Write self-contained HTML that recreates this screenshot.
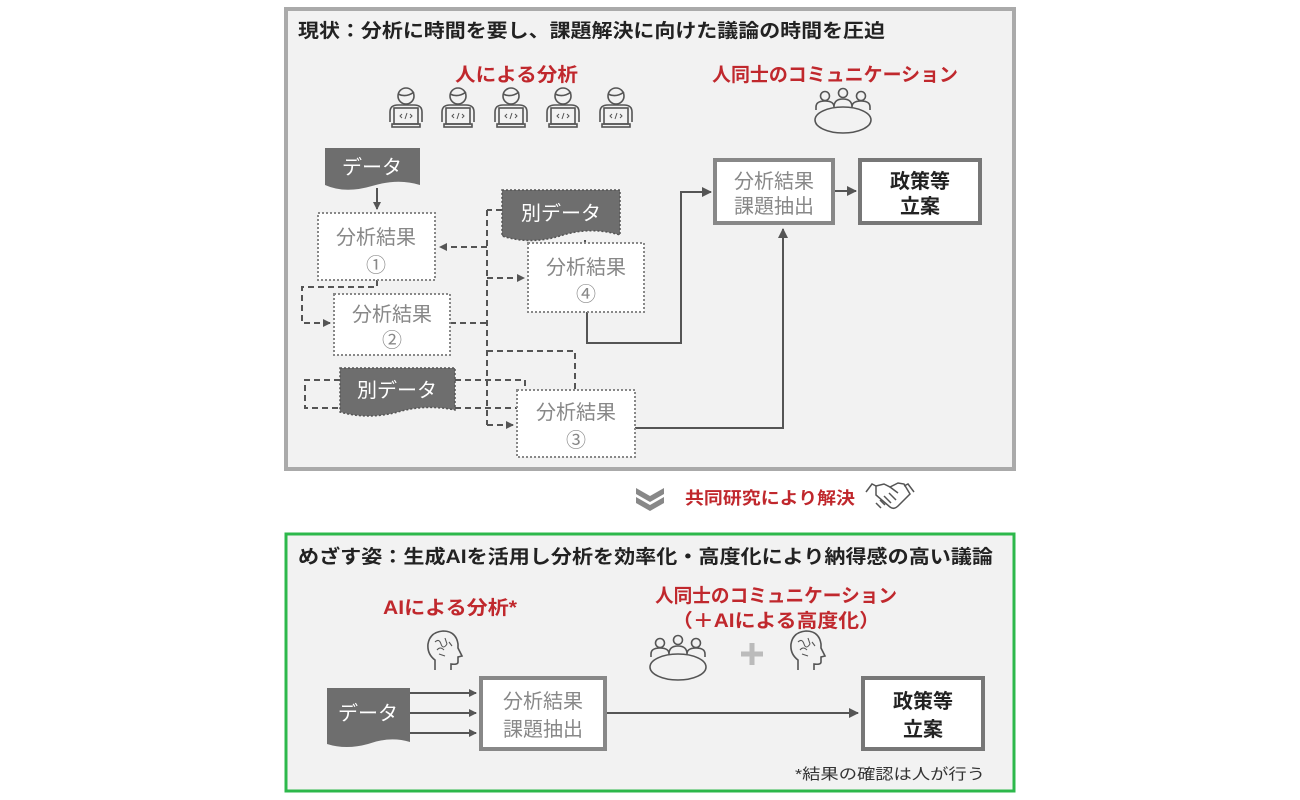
<!DOCTYPE html>
<html><head><meta charset="utf-8"><style>
html,body{margin:0;padding:0;background:#fff;}
svg{display:block;font-family:"Liberation Sans","Noto Sans CJK JP",sans-serif;}
</style></head><body>
<svg width="1300" height="800" viewBox="0 0 1300 800" xmlns="http://www.w3.org/2000/svg">
<defs>
<marker id="ah" markerWidth="8" markerHeight="8" refX="7" refY="4" orient="auto" markerUnits="userSpaceOnUse"><path d="M0,0 L8,4 L0,8 z" fill="#555"/></marker>
<marker id="ah2" markerWidth="10" markerHeight="10" refX="9" refY="5" orient="auto" markerUnits="userSpaceOnUse"><path d="M0,0 L10,5 L0,10 z" fill="#555"/></marker>
<g id="coder" fill="none" stroke="#555" stroke-width="1.6">
<circle cx="0" cy="-12" r="8"/>
<path d="M-8,-14 Q0,-10 8,-16"/>
<path d="M-16,14 L-16,4 Q-16,-3 -8,-3 L8,-3 Q16,-3 16,4 L16,14"/>
<rect x="-12" y="0" width="24" height="16" fill="#f2f2f2"/>
<rect x="-14" y="16" width="28" height="3"/>
<path d="M-4,6 l-2,2 l2,2 M4,6 l2,2 l-2,2 M1,5 l-2,6" stroke-width="1"/>
</g>
<g id="meet" fill="none" stroke="#555" stroke-width="1.6">
<circle cx="-18" cy="-14" r="4.5"/><circle cx="0" cy="-17" r="4.5"/><circle cx="18" cy="-14" r="4.5"/>
<path d="M-27,0 v-3 q0,-6 9,-6 q9,0 9,6 M-9,-3 q0,-8 9,-8 q9,0 9,8 M9,-3 q0,-6 9,-6 q9,0 9,6 v3"/>
<ellipse cx="0" cy="10" rx="28" ry="13" fill="#f2f2f2"/>
</g>
<g id="head" fill="none" stroke="#555" stroke-width="1.6">
<path d="M-8,20 L-8,10 Q-16,4 -15,-6 Q-13,-18 0,-19 Q13,-19 15,-6 L15,-2 L19,6 L15,7 L15,12 Q15,15 8,14 L8,20"/>
<path d="M-8,-8 q4,-4 6,2 q2,6 6,0 M-6,0 q3,-4 7,0 M2,-12 l2,6 M-4,4 l6,2 M6,-8 l3,4" stroke-width="1.1"/>
</g>
</defs>

<!-- Top panel -->
<rect x="286" y="9" width="728" height="460" fill="#f2f2f2" stroke="#aaaaaa" stroke-width="4"/>
<text x="298" y="37" font-size="19" font-weight="bold" fill="#222" textLength="587" lengthAdjust="spacingAndGlyphs">現状：分析に時間を要し、課題解決に向けた議論の時間を圧迫</text>
<text x="455" y="81" font-size="19" font-weight="bold" fill="#c0282d" textLength="123" lengthAdjust="spacingAndGlyphs">人による分析</text>
<text x="712" y="81" font-size="19" font-weight="bold" fill="#c0282d" textLength="246" lengthAdjust="spacingAndGlyphs">人同士のコミュニケーション</text>
<use href="#coder" x="406" y="108"/>
<use href="#coder" x="458" y="108"/>
<use href="#coder" x="511" y="108"/>
<use href="#coder" x="563" y="108"/>
<use href="#coder" x="616" y="108"/>
<use href="#meet" x="843" y="110"/>

<!-- connectors top -->
<g fill="none" stroke="#555" stroke-width="2" stroke-dasharray="6,4">
<path d="M487,210 V425"/>
<path d="M502,210 H487"/>
<path d="M487,247 H440" marker-end="url(#ah)"/>
<path d="M487,278 H524" marker-end="url(#ah)"/>
<path d="M450,323 H487"/>
<path d="M487,351 H575 V390"/>
<path d="M377,280 V287 H302 V323 H330" marker-end="url(#ah)"/>
<path d="M340,380 H305 V408 H340"/>
<path d="M455,380 H525 V390"/>
<path d="M455,408 H517"/>
<path d="M487,425 H513" marker-end="url(#ah)"/>
<path d="M585,240 V244"/>
</g>
<g fill="none" stroke="#555" stroke-width="2">
<path d="M377,188 V209" marker-end="url(#ah)"/>
<path d="M587,312 V343 H681 V192 H711" marker-end="url(#ah2)"/>
<path d="M635,428 H783 V229" marker-end="url(#ah2)"/>
<path d="M834,191 H856" marker-end="url(#ah2)"/>
</g>

<!-- data shapes -->
<path d="M325,148 H420 V185 Q398,178 372,186 Q345,194 325,185 Z" fill="#6e6e6e"/>
<text x="372" y="174" font-size="20" fill="#fff" text-anchor="middle">データ</text>
<path d="M502,190 H620 V235 Q590,226 560,236 Q530,245 502,236 Z" fill="#6e6e6e" stroke="#555" stroke-width="1.5" stroke-dasharray="2,2"/>
<text x="561" y="220" font-size="20" fill="#fff" text-anchor="middle">別データ</text>
<path d="M340,368 H455 V410 Q425,404 398,412 Q368,420 340,412 Z" fill="#6e6e6e" stroke="#555" stroke-width="1.5" stroke-dasharray="2,2"/>
<text x="397" y="397" font-size="20" fill="#fff" text-anchor="middle">別データ</text>

<!-- dotted boxes -->
<g fill="#fff" stroke="#888" stroke-width="2" stroke-dasharray="2,2">
<rect x="318" y="213" width="117" height="67"/>
<rect x="334" y="294" width="116" height="61"/>
<rect x="528" y="243" width="116" height="69"/>
<rect x="517" y="390" width="118" height="67"/>
</g>
<g font-size="20" fill="#888" text-anchor="middle">
<text x="376" y="244">分析結果</text><text x="376" y="272">①</text>
<text x="392" y="321">分析結果</text><text x="392" y="347">②</text>
<text x="586" y="274">分析結果</text><text x="586" y="301">④</text>
<text x="576" y="419">分析結果</text><text x="576" y="447">③</text>
</g>

<rect x="715" y="160" width="118" height="63" fill="#fff" stroke="#888" stroke-width="4"/>
<text x="774" y="188" font-size="20" fill="#888" text-anchor="middle">分析結果</text>
<text x="774" y="213" font-size="20" fill="#888" text-anchor="middle">課題抽出</text>
<rect x="860" y="160" width="120" height="63" fill="#fff" stroke="#777" stroke-width="4"/>
<text x="920" y="188" font-size="20" font-weight="bold" fill="#222" text-anchor="middle">政策等</text>
<text x="920" y="213" font-size="20" font-weight="bold" fill="#222" text-anchor="middle">立案</text>

<!-- middle -->
<path d="M636,488 L650,496 L664,488 L664,494 L650,502 L636,494 Z" fill="#888"/>
<path d="M636,497 L650,505 L664,497 L664,503 L650,511 L636,503 Z" fill="#888"/>
<text x="685" y="504" font-size="17" font-weight="bold" fill="#c0282d" textLength="170" lengthAdjust="spacingAndGlyphs">共同研究により解決</text>
<g fill="none" stroke="#555" stroke-width="1.5">
<path d="M866,492 l6,-8 l4,2 M914,492 l-6,-8 l-4,2"/>
<path d="M876,486 l8,-2 l6,3 l8,-4 l6,1 l6,10 l-12,12 q-4,4 -8,1 l-14,-12 z"/>
<path d="M880,500 l5,5 M884,496 l7,7 M889,493 l7,7 M876,503 l5,5 M890,487 l8,6"/>
</g>

<!-- Bottom panel -->
<rect x="286" y="534" width="728" height="257" fill="#f2f2f2" stroke="#2db84b" stroke-width="3"/>
<text x="298" y="563" font-size="19" font-weight="bold" fill="#222" textLength="695" lengthAdjust="spacingAndGlyphs">めざす姿：生成AIを活用し分析を効率化・高度化により納得感の高い議論</text>
<text x="383" y="614" font-size="19" font-weight="bold" fill="#c0282d" textLength="134" lengthAdjust="spacingAndGlyphs">AIによる分析*</text>
<text x="655" y="602" font-size="19" font-weight="bold" fill="#c0282d" textLength="242" lengthAdjust="spacingAndGlyphs">人同士のコミュニケーション</text>
<text x="672" y="627" font-size="19" font-weight="bold" fill="#c0282d" textLength="208" lengthAdjust="spacingAndGlyphs">（＋AIによる高度化）</text>
<use href="#head" x="443" y="650"/>
<use href="#meet" x="678" y="657"/>
<path d="M752,643 v22 M741,654 h22" stroke="#bbb" stroke-width="5"/>
<use href="#head" x="806" y="650"/>

<path d="M327,688 H410 V742 Q390,736 368,744 Q346,750 327,744 Z" fill="#6e6e6e"/>
<text x="368" y="720" font-size="20" fill="#fff" text-anchor="middle">データ</text>
<g fill="none" stroke="#555" stroke-width="2">
<path d="M410,693 H476" marker-end="url(#ah)"/>
<path d="M410,713 H476" marker-end="url(#ah)"/>
<path d="M410,733 H476" marker-end="url(#ah)"/>
<path d="M606,713 H858" marker-end="url(#ah2)"/>
</g>
<rect x="481" y="678" width="124" height="71" fill="#fff" stroke="#888" stroke-width="4"/>
<text x="543" y="708" font-size="20" fill="#888" text-anchor="middle">分析結果</text>
<text x="543" y="736" font-size="20" fill="#888" text-anchor="middle">課題抽出</text>
<rect x="863" y="678" width="120" height="71" fill="#fff" stroke="#777" stroke-width="4"/>
<text x="923" y="708" font-size="20" font-weight="bold" fill="#222" text-anchor="middle">政策等</text>
<text x="923" y="736" font-size="20" font-weight="bold" fill="#222" text-anchor="middle">立案</text>
<text x="985" y="779" font-size="15" fill="#333" text-anchor="end" textLength="190" lengthAdjust="spacingAndGlyphs">*結果の確認は人が行う</text>
</svg>
</body></html>
